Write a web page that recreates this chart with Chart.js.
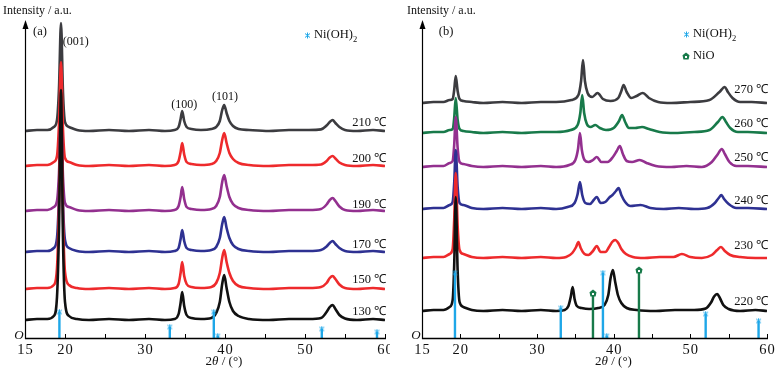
<!DOCTYPE html>
<html><head><meta charset="utf-8">
<script src="https://cdn.jsdelivr.net/npm/chart.js@4.4.1/dist/chart.umd.min.js"></script>
<style>
html,body{margin:0;padding:0;background:#fff;}
#wrap{position:relative;width:775px;height:370px;background:#fff;}
canvas{position:absolute;top:0;}
</style></head><body>
<div id="wrap"><canvas id="ca" width="390" height="370" style="left:0"></canvas><canvas id="cb" width="385" height="370" style="left:390px"></canvas></div>
<script>
// ---------- panel (a) ----------
const thetaA = [15,16.5,17.8,18.6,19.0,19.25,19.5,19.75,20.0,20.5,21.5,23,25.5,28,30.5,32.5,33.7,34.2,34.45,34.65,34.9,35.2,35.8,37,38.3,38.9,39.35,39.65,39.9,40.2,40.55,41.0,41.7,43,45.5,48,50.5,52.0,52.7,53.1,53.45,53.8,54.3,55.0,56.5,58.5,60];
const i130 = [18,19,19,22,41,110,248,98,36,22, 19,18,19,18,19,18,19,24,35,46, 32,23,20,19,20,25,36,54,63,50, 36,27,22,19,18,19,19,20,26,31, 33,29,23,19.5,18,19,18];
const i150 = [49,50,50,53,70,135,263,124,66,53, 50,49,50,49,50,49,50,54,65,76, 62,54,51,50,51,55,65,80,88,76, 65,57,52,50,49,50,50,51,55,60, 62,59,53.5,50,49,50,49];
const i170 = [86,87,87,90,100,144,230,136,98,90, 87,86,87,86,87,86,87,90,99,108, 97,90,88,87,88,91,100,114,121,110, 100,93,89,87,86,87,87,88,91.5,95, 97,94,90,87,86,87,86];
const i190 = [127,128,128,131,137,165,223,161,135,131, 128,127,128,127,128,127,128,132,141,151, 139,131,129,128,129,132,141,156,163,152, 141,134,130,128,127,128,128,129,133.5,138, 140,137,131.5,128,127,128,127];
const i200 = [172,173,173,176,182,214,276,208,180,176, 173,172,173,172,173,172,173,177,186,195, 183.5,176,174,173,174,177,185,198,205,195, 185,179,175,173,172,173,173,173.5,177,180.5, 182,179.5,175.5,173,172,173,172];
const i210 = [207,208,208,211,218,250,315,245,216,211, 208,207,208,207,208,207,208,211,219,227, 217,211,209,208,209,211,217,228,233,225, 217,212,209,208,207,208,208,208.6,212.5,216, 218,215,211,208,207,208,207];
const seriesA = ['130 ℃','150 ℃','170 ℃','190 ℃','200 ℃','210 ℃'];
const labelYA = [26,58,93,133,179,215];
const stickThetaA = [19.3,33.1,38.6,39.1,52.1,59.0];
const stickHA = [26,11,26,2,9,6];

// ---------- panel (b) ----------
const x220 = [15,16.5,17.8,18.6,19.0,19.2,19.4,19.65,19.9,20.4,21.5,23,25.5,28,30.5,32.5,33.6,34.1,34.4,34.65,34.9,35.2,35.8,36.8,38.0,38.8,39.3,39.6,39.9,40.2,40.55,41.0,41.7,43,45.5,48,50.5,52.0,52.7,53.1,53.5,53.85,54.3,55.0,56.5,58.5,60];
const i220 = [27,28,28,31,38,73,141,67,36,31, 28,27,28,27,28,27,28,32,41,51, 39,32,30,29,30,33,43,60,68,56, 43,35,30,28,27,28,28,29.5,35.5,41.5, 44,40,33,29,27,28,27];
const x230 = [15,16.5,17.8,18.6,19.0,19.2,19.4,19.65,19.9,20.4,21.5,23,25.5,28,30.5,32.5,33.8,34.6,35.1,35.4,35.7,36.2,36.7,37.3,37.8,38.3,38.9,39.4,39.8,40.2,40.6,41.0,41.6,42.5,44,46,47.8,48.9,50,51.5,52.8,53.5,54.0,54.5,55.2,56.5,58.5,60];
const i230 = [80,81,81,84,89,118,165,112,88,84, 81,80,81,80,81,80,81,85,91,96, 90,84,83,87,92,86,86,91,96,98, 95,89,84,81,80,81,81,84,81,80, 83,88,91,87,83,81,80,80];
const x240 = [15,16.5,17.8,18.6,19.0,19.2,19.4,19.65,19.9,20.4,21.5,23,25.5,28,30.5,32.5,34.0,34.9,35.3,35.6,35.9,36.3,36.9,37.4,37.8,38.3,38.9,39.5,39.85,40.3,40.65,41.0,41.5,42.2,43.5,44.8,46.5,48.5,50.5,52.2,53.2,53.7,54.05,54.4,55.0,56,57.5,60];
const i240 = [129,130,130,133,136,155,188,151,135,133, 130,129,130,129,130,129,131,135,144,156, 143,135,134,138,141,135,136,141,143,147, 150,143,136,132,133,130,129,130,129,130, 135,140,143,139,134,130,130,129];
const x250 = [15,16.5,17.8,18.6,19.0,19.2,19.4,19.65,19.9,20.4,21.5,23,25.5,28,30.5,32.5,34.2,35.0,35.35,35.6,35.85,36.2,36.7,37.3,37.8,38.4,39.2,39.9,40.4,40.8,41.2,41.7,42.4,43.4,44.3,45.5,47.5,49.5,51.5,52.8,53.6,54.1,54.5,55.1,56,57.5,60];
const i250 = [171,172,172,175,177,193,221,190,176,174, 172,171,172,171,172,171,173,178,189,205, 188,178,176,178,181,176,176,181,187,192, 184,177,176,178,175,172,171,172,171,176, 184,189,184,176,172,172,171];
const x260 = [15,16.5,17.8,18.6,19.0,19.2,19.4,19.65,19.9,20.4,21.5,23,25.5,28,30.5,32.5,34.4,35.3,35.65,35.9,36.15,36.5,37.0,37.6,38.2,39.0,40.0,40.7,41.1,41.5,42.0,42.8,43.7,44.6,46,48,50.5,52.5,53.6,54.2,54.65,55.2,56.2,57.5,60];
const i260 = [205,206,206,208,209,220,240,218,209,207, 206,205,206,205,206,206,208,213,225,243, 225,214,211,213,210,208,210,217,223,216, 210,210,211,209,206,205,206,208,216,221, 216,210,206,206,205];
const x270 = [15,16.5,17.8,18.6,19.0,19.2,19.4,19.65,19.9,20.4,21.5,23,25.5,28,30.5,32.5,34.5,35.4,35.75,36.0,36.25,36.6,37.2,37.9,38.6,39.6,40.6,41.0,41.3,41.7,42.3,43.0,43.8,44.6,45.8,47.5,50,52.5,53.8,54.5,54.9,55.5,56.5,58,60];
const i270 = [235,236,236,238,239,248,262,247,239,237, 236,235,236,235,236,236,238,243,257,278, 257,245,241,245,239,237,240,247,253,246, 240,242,245,240,236,235,236,238,246,251, 246,240,236,236,235];
const seriesB = ['220 ℃','230 ℃','240 ℃','250 ℃','260 ℃','270 ℃'];
const labelYB = [36,92,137,180,214,248];
const niohTheta = [19.3,33.1,38.6,39.1,52.0,58.9];
const niohH = [65,30,65,2,24,17];
const nioTheta = [37.3,43.3];
const nioH = [45,68];

// ---------- axes ----------
const xTickMarks = [15,20,25,30,35,40,45,50,55,60];
const xTickLabels = [15,20,30,40,50,60];

// ---------- styling ----------
const SERIF = '"Liberation Serif","Times New Roman",serif';
const BLACK='#111111', RED='#ee2a2c', BLUE='#2e3192', PURPLE='#93308f', GREEN='#187a4a', GRAY='#3c3c40', CYAN='#1ea7e8';
const colorsA = [BLACK,RED,BLUE,PURPLE,RED,GRAY];
const colorsB = [BLACK,RED,BLUE,PURPLE,GREEN,GRAY];

function makeStar(color){
  const c=document.createElement('canvas'); c.width=7; c.height=7;
  const g=c.getContext('2d'); g.strokeStyle=color; g.lineWidth=1; g.beginPath();
  g.moveTo(3.5,0.5); g.lineTo(3.5,6.5);
  g.moveTo(1,1.5); g.lineTo(6,5.5);
  g.moveTo(1,5.5); g.lineTo(6,1.5);
  g.stroke(); return c;
}
function makeHouse(color){
  const c=document.createElement('canvas'); c.width=8; c.height=8;
  const g=c.getContext('2d'); g.fillStyle=color; g.beginPath();
  g.moveTo(4,0.5); g.lineTo(7.5,3.3); g.lineTo(6.6,7.5); g.lineTo(1.4,7.5); g.lineTo(0.5,3.3); g.closePath(); g.fill();
  g.fillStyle='#fff'; g.fillRect(3,4,2,2);
  return c;
}
const starImg = makeStar(CYAN);
const houseImg = makeHouse(GREEN);

function pts(xs, ys){ return xs.map((x,i)=>({x:x,y:ys[i]})); }
function curve(label, xs, ys, color){
  return {label, data:pts(xs,ys), borderColor:color, borderWidth:2.6, pointRadius:0, cubicInterpolationMode:'monotone', fill:false};
}
function sticks(xs, hs, color){
  const d=[]; xs.forEach((x,i)=>{ d.push({x:x,y:0},{x:x,y:hs[i]},{x:x,y:null}); });
  return {data:d, borderColor:color, borderWidth:2.4, pointRadius:0, spanGaps:false, borderCapStyle:'butt', tension:0};
}
function markers(xs, hs, img){
  return {data:xs.map((x,i)=>({x:x,y:hs[i]})), showLine:false, pointStyle:img, pointRadius:4, pointHoverRadius:4, borderColor:'rgba(0,0,0,0)', backgroundColor:'rgba(0,0,0,0)'};
}

function txt(ctx, s, x, y, font, align, color){
  ctx.font=font; ctx.textAlign=align||'left'; ctx.textBaseline='middle'; ctx.fillStyle=color||'#111'; ctx.fillText(s,x,y);
}

const deco = {
  id:'deco',
  afterDraw(chart, args, o){
    const ctx=chart.ctx, a=chart.chartArea, xs=chart.scales.x, ys=chart.scales.y;
    ctx.save();
    ctx.strokeStyle='#000'; ctx.lineWidth=1.4;
    ctx.beginPath(); ctx.moveTo(a.left, a.bottom+0.5); ctx.lineTo(a.right+1, a.bottom+0.5); ctx.stroke();
    ctx.lineWidth=1;
    xTickMarks.forEach(t=>{ const px=Math.round(xs.getPixelForValue(t))+0.5; ctx.beginPath(); ctx.moveTo(px,a.bottom); ctx.lineTo(px,a.bottom-4); ctx.stroke(); });
    const yx=Math.round(a.left)+0.5;
    ctx.lineWidth=1.2; ctx.beginPath(); ctx.moveTo(yx,a.bottom+1); ctx.lineTo(yx,26); ctx.stroke();
    ctx.fillStyle='#000'; ctx.beginPath(); ctx.moveTo(yx,20); ctx.lineTo(yx-3,29); ctx.lineTo(yx+3,29); ctx.closePath(); ctx.fill();
    ctx.letterSpacing='1px';
    xTickLabels.forEach(t=>{ txt(ctx, String(t), xs.getPixelForValue(t)+0.5, 350, '14.5px '+SERIF, 'center', '#111'); });
    ctx.letterSpacing='0px';
    txt(ctx,'O',a.left-6,336,'italic 13px '+SERIF,'center','#111');
    const cx=(a.left+a.right)/2+19;
    ctx.font='13px '+SERIF; const w1=ctx.measureText('2').width;
    ctx.font='italic 13px '+SERIF; const w2=ctx.measureText('θ').width;
    ctx.font='13px '+SERIF; const w3=ctx.measureText(' / (°)').width;
    let sx=cx-(w1+w2+w3)/2;
    txt(ctx,'2',sx,362,'13px '+SERIF,'left'); sx+=w1;
    txt(ctx,'θ',sx,362,'italic 13px '+SERIF,'left'); sx+=w2;
    txt(ctx,' / (°)',sx,362,'13px '+SERIF,'left');
    txt(ctx,'Intensity / a.u.',o.ytX,11,'12px '+SERIF,'left','#111');
    txt(ctx,o.panel,o.panelX,32,'12.5px '+SERIF,'center','#111');
    o.temps.forEach((s,i)=>{ txt(ctx,s,a.right+1,ys.getPixelForValue(o.tempY[i]),'12.5px '+SERIF,'right','#111'); });
    (o.notes||[]).forEach(n=>{ txt(ctx,n[0],xs.getPixelForValue(n[1]),ys.getPixelForValue(n[2]),'12px '+SERIF,'center','#111'); });
    o.legend.forEach(l=>{
      ctx.drawImage(l.img, Math.round(l.x-l.img.width/2), Math.round(l.y-l.img.height/2));
      txt(ctx,l.text,l.x+7,l.y,'12.5px '+SERIF,'left','#111');
      if(l.sub){ ctx.font='12.5px '+SERIF; const w=ctx.measureText(l.text).width; txt(ctx,l.sub,l.x+7+w,l.y+5,'8.5px '+SERIF,'left','#111'); }
    });
    ctx.restore();
  }
};

function baseOptions(padL, padR, decoOpts){
  return {
    responsive:false, animation:false, devicePixelRatio:1,
    layout:{padding:{left:padL,right:padR,top:10,bottom:32}},
    plugins:{legend:{display:false}, tooltip:{enabled:false}, deco:decoOpts},
    scales:{
      x:{type:'linear', min:15, max:60, display:false},
      y:{type:'linear', min:0, max:328, display:false}
    },
    elements:{line:{borderJoinStyle:'round'}}
  };
}

const curvesA = [i130,i150,i170,i190,i200,i210].map((ys,k)=>curve(seriesA[k], thetaA, ys, colorsA[k]));
new Chart(document.getElementById('ca'), {
  type:'line',
  data:{datasets:[ markers(stickThetaA, stickHA, starImg), sticks(stickThetaA, stickHA, CYAN), ...curvesA ]},
  options: baseOptions(25, 4, {
    panel:'(a)', panelX:40, ytX:3,
    temps:seriesA, tempY:labelYA,
    notes:[['(001)',21.35,296],['(100)',34.9,233],['(101)',40.0,241]],
    legend:[{img:starImg, x:307, y:35, text:'Ni(OH)', sub:'2'}]
  }),
  plugins:[deco]
});

const xsB=[x220,x230,x240,x250,x260,x270], ysB=[i220,i230,i240,i250,i260,i270];
const curvesB = ysB.map((ys,k)=>curve(seriesB[k], xsB[k], ys, colorsB[k]));
new Chart(document.getElementById('cb'), {
  type:'line',
  data:{datasets:[ markers(niohTheta, niohH, starImg), markers(nioTheta, nioH, houseImg), sticks(niohTheta, niohH, CYAN), sticks(nioTheta, nioH, GREEN), ...curvesB ]},
  options: baseOptions(32, 8, {
    panel:'(b)', panelX:56, ytX:17,
    temps:seriesB, tempY:labelYB,
    notes:[],
    legend:[{img:starImg, x:296, y:34, text:'Ni(OH)', sub:'2'},{img:houseImg, x:296, y:56, text:'NiO'}]
  }),
  plugins:[deco]
});
</script>
</body></html>
